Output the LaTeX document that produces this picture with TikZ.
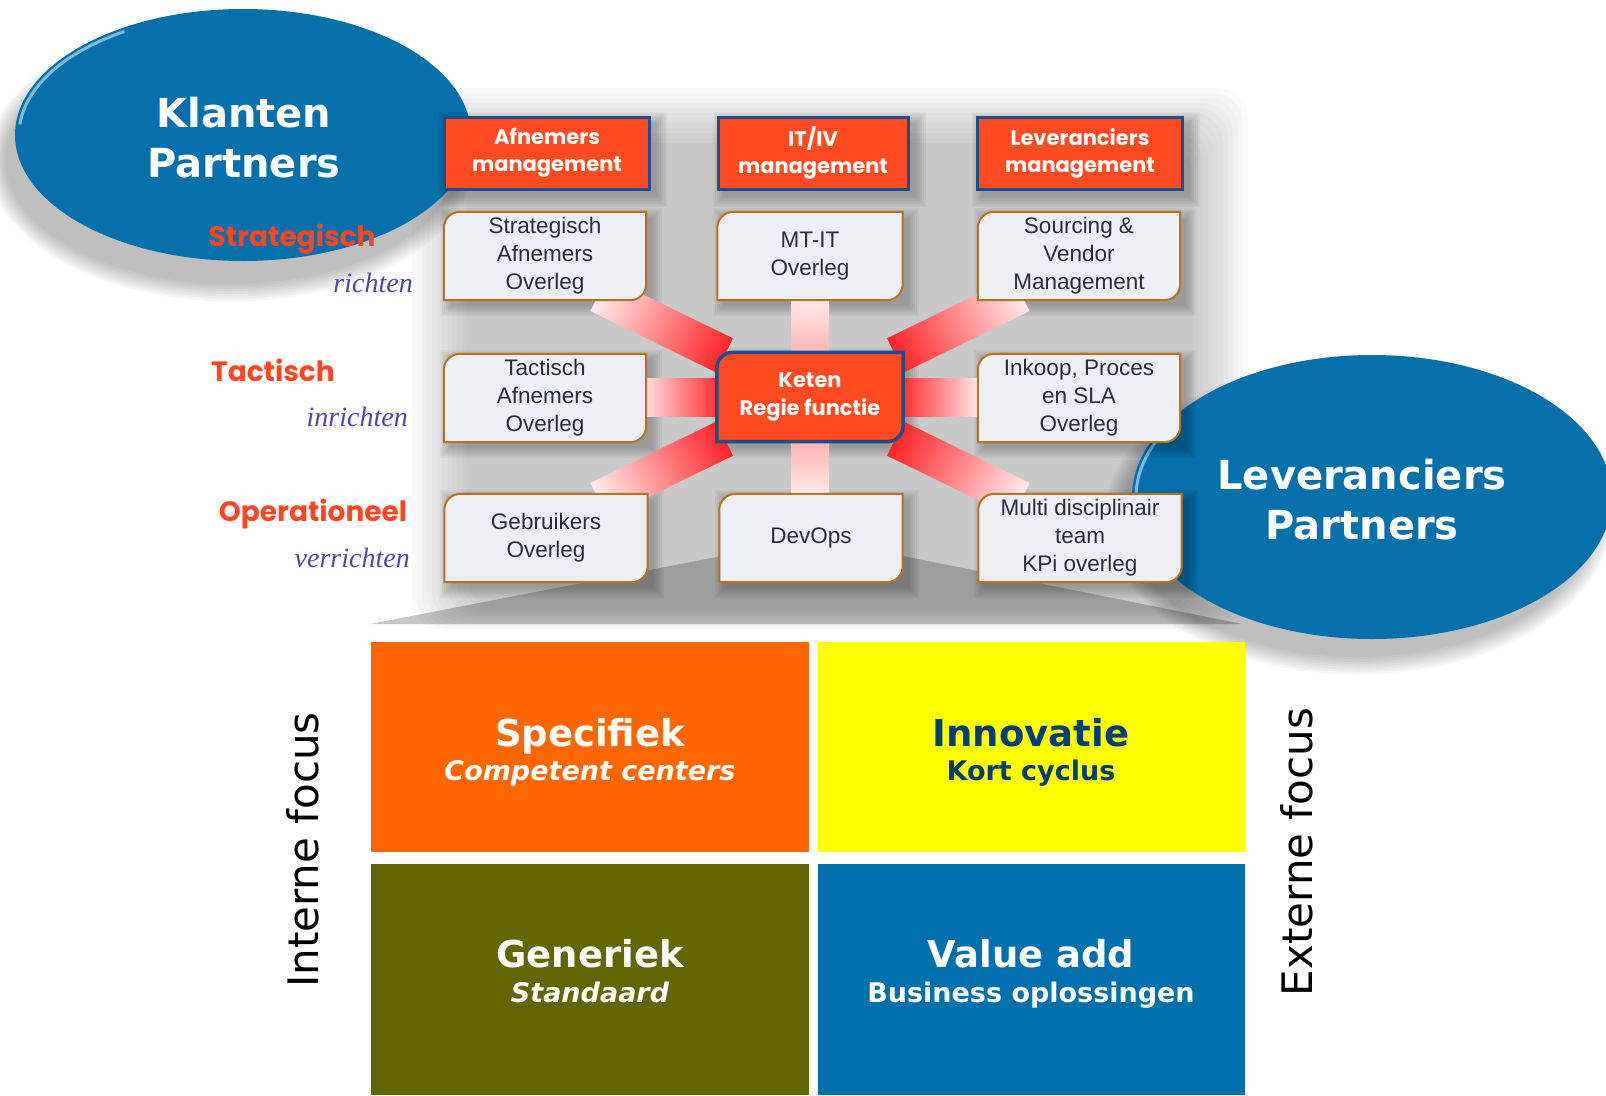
\documentclass[tikz,border=0pt]{standalone}
\usepackage{fontspec}
\setmainfont{Liberation Sans}
\newfontfamily\verd{DejaVu Sans}
\newfontfamily\goth{Poppins}
\newfontfamily\hand{Liberation Serif}
\usetikzlibrary{calc}
\pgfdeclarelayer{bg}
\pgfdeclarelayer{rays}
\pgfdeclarelayer{boxes}
\pgfsetlayers{bg,rays,boxes,main}
\definecolor{hdrred}{RGB}{255,74,34}
\definecolor{hdrblue}{RGB}{28,78,140}
\definecolor{boxfill}{RGB}{238,239,244}
\definecolor{boxline}{RGB}{182,116,30}
\definecolor{boxtext}{RGB}{40,45,62}
\definecolor{ellblue}{RGB}{5,112,170}
\definecolor{ellrim}{RGB}{150,210,240}
\definecolor{lblred}{RGB}{255,70,35}
\definecolor{handblue}{RGB}{72,72,184}
\definecolor{raycore}{RGB}{255,35,40}
\definecolor{raypink}{RGB}{255,175,175}
\definecolor{rayend}{RGB}{255,236,236}
\definecolor{qorange}{RGB}{255,102,0}
\definecolor{qyellow}{RGB}{255,255,0}
\definecolor{qolive}{RGB}{98,102,0}
\definecolor{qblue}{RGB}{0,112,173}
\definecolor{qtext}{RGB}{0,62,122}
\tikzset{
  hdr/.style={inner sep=0pt, minimum height=72pt, align=center,
    font=\goth\bfseries\fontsize{21}{27}\selectfont, text=white,
    fill=hdrred, draw=hdrblue, line width=3pt},
  btxt/.style={inner sep=0pt, minimum height=88pt, align=center,
    font=\fontsize{22.5}{28}\selectfont, text=boxtext},
  ktxt/.style={inner sep=0pt, minimum height=89pt, align=center,
    font=\goth\bfseries\fontsize{21}{28}\selectfont, text=white},
  lbox/.style={fill=boxfill, draw=boxline, line width=2pt},
  kbox/.style={fill=hdrred, draw=hdrblue, line width=3.5pt},
  etxt/.style={inner sep=0pt, align=center, text=white,
    font=\verd\bfseries\fontsize{40}{50}\selectfont},
  lvl/.style={inner sep=0pt, text=lblred, font=\goth\bfseries\fontsize{28}{30}\selectfont},
  verb/.style={inner sep=0pt, text=handblue, font=\hand\itshape\fontsize{28}{30}\selectfont},
  quad/.style={inner sep=0pt, draw=none},
  qtitle/.style={inner sep=0pt, font=\verd\bfseries\fontsize{37}{40}\selectfont},
  qsub/.style={inner sep=0pt, font=\verd\bfseries\fontsize{27}{30}\selectfont},
  focus/.style={inner sep=0pt, rotate=90, font=\verd\fontsize{42}{46}\selectfont, text=black}
}
\newcommand\rdbox[2]{%
  \draw[#2] (#1.east) [rounded corners=16pt] |- (#1.south) [sharp corners] -| (#1.west)
    [rounded corners=16pt] |- (#1.north) [sharp corners] -| (#1.east) -- cycle;}
\newcommand\shadowof[1]{%
  \foreach \g in {0,2,...,10}{%
    \pgfmathsetmacro\ga{6-\g}\pgfmathsetmacro\gb{6+\g}%
    \fill[black,opacity=0.045] ([xshift=\ga pt,yshift=-\ga pt]#1.north west)
      rectangle ([xshift=\gb pt,yshift=-\gb pt]#1.south east);}}
\begin{document}
\begin{tikzpicture}[x=1pt,y=-1pt]
\useasboundingbox (0,0) rectangle (1606,1095);

% ---------- header boxes
\node[hdr, minimum width=205pt] (afn) at (547,153) {Afnemers\\management};
\node[hdr, minimum width=190pt] (itiv) at (813,153) {IT/IV\\management};
\node[hdr, minimum width=205pt] (lev) at (1080,153) {Leveranciers\\management};

% ---------- grid boxes (text)
\node[btxt, minimum width=202pt] (sao) at (545,256) {Strategisch\\Afnemers\\Overleg};
\node[btxt, minimum width=185pt] (mtit) at (810,256) {MT-IT\\Overleg};
\node[btxt, minimum width=202pt] (svm) at (1079,256) {Sourcing \&\\Vendor\\Management};
\node[btxt, minimum width=202pt] (tao) at (545,398) {Tactisch\\Afnemers\\Overleg};
\node[ktxt, minimum width=186pt] (keten) at (810,397) {Keten\\Regie functie};
\node[btxt, minimum width=202pt] (ink) at (1079,398) {Inkoop, Proces\\en SLA\\Overleg};
\node[btxt, minimum width=203pt] (gbo) at (546,538) {Gebruikers\\Overleg};
\node[btxt, minimum width=183pt] (devops) at (811,538) {DevOps};
\node[btxt, minimum width=203pt] (mdt) at (1080,538) {Multi disciplinair\\team\\KPi overleg};

% ---------- ellipse texts
\node[etxt] (klant) at (244,138) {Klanten\\Partners};
\node[etxt] (levp) at (1362,500) {Leveranciers\\Partners};

% ---------- level labels
\node[lvl, anchor=base] (strat) at (292,246) {Strategisch};
\node[lvl, anchor=base] (tact) at (273,381) {Tactisch};
\node[lvl, anchor=base] (oper) at (313,521) {Operationeel};
\node[verb, anchor=base east] (richt) at (413,292) {richten};
\node[verb, anchor=base east] (inricht) at (408,426) {inrichten};
\node[verb, anchor=base east] (verricht) at (410,567) {verrichten};

% ---------- quadrants
\node[quad, fill=qorange, minimum width=438pt, minimum height=210pt] (q1) at (590,747) {};
\node[quad, fill=qyellow, minimum width=427pt, minimum height=210pt] (q2) at (1031.5,747) {};
\node[quad, fill=qolive, minimum width=438pt, minimum height=231pt] (q3) at (590,979.5) {};
\node[quad, fill=qblue, minimum width=427pt, minimum height=231pt] (q4) at (1031.5,979.5) {};
\node[qtitle, text=white, anchor=base] (t1) at (590,746) {Specifiek};
\node[qsub, text=white, anchor=base] (s1) at (590,780) {\itshape Competent centers};
\node[qtitle, text=qtext, anchor=base] (t2) at (1031,746) {Innovatie};
\node[qsub, text=qtext, anchor=base] (s2) at (1031,780) {Kort cyclus};
\node[qtitle, text=white, anchor=base] (t3) at (590,967) {Generiek};
\node[qsub, text=white, anchor=base] (s3) at (590,1002) {\itshape Standaard};
\node[qtitle, text=white, anchor=base] (t4) at (1031,967) {Value add};
\node[qsub, text=white, anchor=base] (s4) at (1031,1002) {Business oplossingen};

\node[focus] (intf) at (303,850) {Interne focus};
\node[focus] (extf) at (1297,852) {Externe focus};

% ---------- background layer
\begin{pgfonlayer}{bg}
  \foreach \i in {0,...,11}
    \fill[black,opacity=0.02,rounded corners=30pt]
      (412+\i*5,88+\i*5) rectangle (1248-\i*5,630-\i*2);
  \fill[black,opacity=0.22] (370,624) -- (722,556) -- (903,556) -- (1242,624) -- cycle;
  % ellipse shadows
  \foreach \i in {1,...,8}{
    \fill[black,opacity=0.035] (231,160) ellipse [x radius=246-2.5*\i, y radius=144-2.5*\i];
    \fill[black,opacity=0.035] (1358,517) ellipse [x radius=256-2.5*\i, y radius=160-2.5*\i];
  }
  \fill[ellblue] (243,135) ellipse [x radius=228, y radius=126];
  \fill[ellblue] (1372,497) ellipse [x radius=240, y radius=142];
  \draw[ellrim, line width=3pt, opacity=0.8] (243,135) ++(185:224 and 122)
    arc [start angle=185, end angle=238, x radius=224, y radius=122];
  \draw[ellrim, line width=3pt, opacity=0.8] (1372,497) ++(160:236 and 138)
    arc [start angle=160, end angle=215, x radius=236, y radius=138];
  \foreach \n in {afn,itiv,lev,sao,mtit,svm,tao,keten,ink,gbo,devops,mdt}{\shadowof{\n}}
\end{pgfonlayer}

% ---------- rays from the centre node
\begin{pgfonlayer}{rays}
  \foreach \a/\s/\e/\c in {154/95/235/raycore, 26/95/235/raycore, 206/95/235/raycore,
      334/95/235/raycore, 180/88/170/raycore, 0/88/170/raycore,
      90/40/100/raypink, 270/40/100/raypink}{
    \begin{scope}[transform canvas={shift={(keten.center)},rotate=\a}]
      \shade[left color=\c, right color=rayend] (\s pt,-19pt) rectangle (\e pt,19pt);
    \end{scope}
  }
\end{pgfonlayer}

% ---------- box outlines
\begin{pgfonlayer}{boxes}
  \foreach \n in {sao,mtit,svm,tao,ink,gbo,devops,mdt}{\rdbox{\n}{lbox}}
  \rdbox{keten}{kbox}
\end{pgfonlayer}
\end{tikzpicture}
\end{document}
